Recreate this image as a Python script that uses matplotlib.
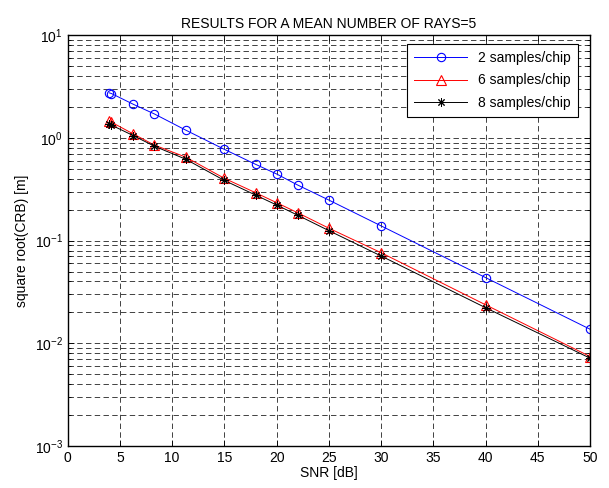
import numpy as np
import matplotlib
matplotlib.use("Agg")
import matplotlib.pyplot as plt
from matplotlib.ticker import MultipleLocator, LogLocator, NullFormatter

plt.rcParams.update({
    "font.family": ["Liberation Sans", "DejaVu Sans"],
    "font.size": 10,
    "mathtext.fontset": "custom",
    "mathtext.rm": "Liberation Sans",
    "mathtext.it": "Liberation Sans",
})

# data
snr = [4.0, 4.2, 6.3, 8.3, 11.3, 15, 18, 20, 22, 25, 30, 40, 50]
crb_2 = [2.74, 2.70, 2.12, 1.71, 1.19, 0.773, 0.552, 0.445, 0.348, 0.248, 0.139, 0.0436, 0.0137]
crb_6 = [1.45, 1.42, 1.09, 0.851, 0.65, 0.404, 0.292, 0.234, 0.187, 0.132, 0.0762, 0.0237, 0.00743]
crb_8 = [1.36, 1.33, 1.05, 0.83, 0.62, 0.385, 0.277, 0.222, 0.177, 0.125, 0.0708, 0.0222, 0.00716]
labels = ["2 samples/chip", "6 samples/chip", "8 samples/chip"]

fig = plt.figure(figsize=(6.09, 4.88), dpi=100)
ax = fig.add_axes([0.111, 0.086, 0.858, 0.842])

ax.semilogy(snr, crb_2, color="#0000ff", lw=0.7, marker="o", ms=6, mfc="none", mec="#0000ff", mew=0.8, label=labels[0])
ax.semilogy(snr, crb_6, color="#ff0000", lw=0.7, marker="^", ms=6.5, mfc="none", mec="#ff0000", mew=0.8, label=labels[1])
ax.semilogy(snr, crb_8, color="black", lw=0.7, marker=(8, 2, 0), ms=6, mec="black", mew=0.7, label=labels[2])

ax.set_xlim(0, 50)
ax.set_ylim(1e-3, 1e1)
ax.xaxis.set_major_locator(MultipleLocator(5))
ax.yaxis.set_major_locator(LogLocator(base=10, numticks=10))
ax.yaxis.set_minor_locator(LogLocator(base=10, subs=np.arange(2, 10), numticks=20))
ax.yaxis.set_minor_formatter(NullFormatter())

dash = (0, (6.5, 4))
ax.grid(True, which="major", axis="both", color="#222222", lw=0.6, ls=dash)
ax.grid(True, which="minor", axis="y", color="#222222", lw=0.6, ls=dash)
ax.set_axisbelow(True)

ax.tick_params(which="both", direction="in", top=True, right=True, width=0.6)
ax.tick_params(which="major", length=4)
ax.tick_params(which="minor", length=2)
for s in ax.spines.values():
    s.set_linewidth(1.0)

ax.set_xlabel("SNR [dB]", labelpad=1)
ax.set_ylabel("square root(CRB) [m]", labelpad=4)
ax.set_title("RESULTS FOR A MEAN NUMBER OF RAYS=5", fontsize=10, pad=5)

leg = ax.legend(loc="upper right", bbox_to_anchor=(0.99, 0.995), fancybox=False, framealpha=1,
                edgecolor="black", handlelength=3.8, labelspacing=0.6, borderpad=0.5, fontsize=10)
leg.get_frame().set_linewidth(0.8)

fig.savefig("out.png", dpi=100)
